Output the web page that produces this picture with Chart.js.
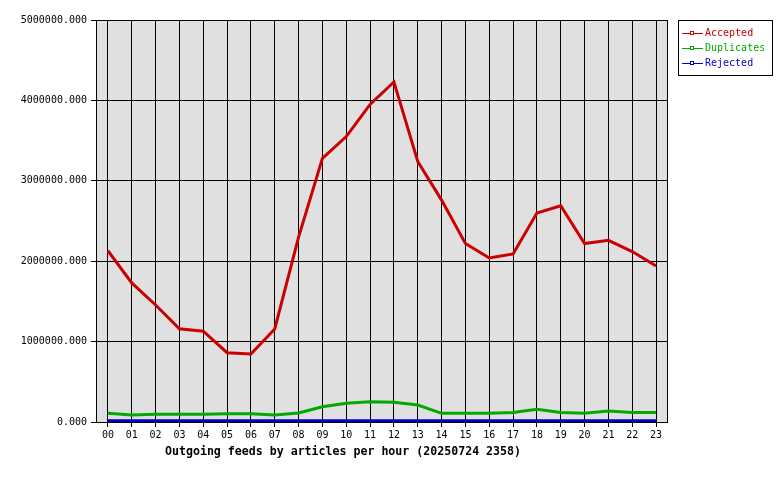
<!DOCTYPE html>
<html>
<head>
<meta charset="utf-8">
<script src="https://cdn.jsdelivr.net/npm/chart.js@4/dist/chart.umd.min.js"></script>
<style>
  body { margin: 0; background: #ffffff; }
  #wrap { width: 780px; height: 480px; }
</style>
</head>
<body>
<div id="wrap"><canvas id="feeds-chart" width="780" height="480"></canvas></div>
<script>
const hours = ["00","01","02","03","04","05","06","07","08","09","10","11",
               "12","13","14","15","16","17","18","19","20","21","22","23"];
const accepted = [2130000, 1730000, 1455000, 1160000, 1130000, 862000, 846000, 1157000,
                  2300000, 3280000, 3550000, 3950000, 4230000, 3240000, 2760000, 2220000,
                  2040000, 2090000, 2600000, 2690000, 2220000, 2260000, 2120000, 1940000];
const duplicates = [108000, 87000, 95000, 95000, 95000, 104000, 104000, 87000,
                    112000, 190000, 232000, 253000, 245000, 211000, 108000, 108000,
                    108000, 117000, 158000, 117000, 108000, 137000, 117000, 117000];
const rejected = [15000, 15000, 15000, 15000, 15000, 15000, 15000, 15000,
                  15000, 15000, 15000, 15000, 15000, 15000, 15000, 15000,
                  15000, 15000, 15000, 15000, 15000, 15000, 15000, 15000];
const yTicks = [0, 1000000, 2000000, 3000000, 4000000, 5000000];
const seriesNames = ["Accepted", "Duplicates", "Rejected"];
const seriesColors = ["#cc0000", "#00aa00", "#0000cc"];
const chartTitle = "Outgoing feeds by articles per hour (20250724 2358)";

const monoFont = "'DejaVu Sans Mono', 'Liberation Mono', monospace";

// grey plot area plus black frame, title and boxed legend
const framePlugin = {
    id: "frame",
    beforeDraw(chart){
        const {ctx, chartArea} = chart;
        ctx.save();
        ctx.fillStyle = "#e0e0e0";
        ctx.fillRect(chartArea.left, chartArea.top, chartArea.right - chartArea.left, chartArea.bottom - chartArea.top);
        ctx.restore();
    },
    beforeDatasetsDraw(chart){
        const {ctx, chartArea} = chart;
        ctx.save();
        ctx.strokeStyle = "#000000";
        ctx.lineWidth = 1;
        ctx.strokeRect(chartArea.left + 0.5, chartArea.top + 0.5,
                       chartArea.right - chartArea.left - 1, chartArea.bottom - chartArea.top);
        ctx.restore();
    },
    afterDraw(chart){
        const ctx = chart.ctx;
        ctx.save();

        // title under the x axis
        ctx.fillStyle = "#000000";
        ctx.font = "bold 11.6px " + monoFont;
        ctx.textAlign = "center";
        ctx.textBaseline = "middle";
        ctx.fillText(chartTitle, 343, 452);

        // legend box
        ctx.strokeStyle = "#000000";
        ctx.lineWidth = 1;
        ctx.strokeRect(678.5, 20.5, 94, 55);
        ctx.font = "10px " + monoFont;
        ctx.textAlign = "left";
        seriesNames.forEach((name, i) => {
            const y = 33.5 + i * 15;
            ctx.strokeStyle = seriesColors[i];
            ctx.beginPath();
            ctx.moveTo(682, y);
            ctx.lineTo(703, y);
            ctx.stroke();
            ctx.fillStyle = "#ffffff";
            ctx.fillRect(690.5, y - 2, 3, 3);
            ctx.strokeRect(690.5, y - 2, 3, 3);
            ctx.fillStyle = seriesColors[i];
            ctx.fillText(name, 705, y);
        });
        ctx.restore();
    }
};

const ctx = document.getElementById("feeds-chart");

new Chart(ctx, {
    type: "line",
    data: {
        labels: hours,
        datasets: [
            { label: seriesNames[0], data: accepted, borderColor: seriesColors[0] },
            { label: seriesNames[1], data: duplicates, borderColor: seriesColors[1] },
            { label: seriesNames[2], data: rejected, borderColor: seriesColors[2] }
        ].map(ds => Object.assign(ds, {
            borderWidth: 3,
            pointRadius: 0,
            tension: 0,
            fill: false
        }))
    },
    plugins: [framePlugin],
    options: {
        responsive: false,
        animation: false,
        events: [],
        layout: { padding: { top: 20, right: 112, left: 0, bottom: 0 } },
        plugins: {
            legend: { display: false },
            tooltip: { enabled: false }
        },
        scales: {
            x: {
                offset: true,
                grid: { color: "#000000", offset: false, tickLength: 5, tickColor: "#000000", lineWidth: 1 },
                border: { display: false },
                ticks: {
                    color: "#000000",
                    font: { family: monoFont, size: 10 },
                    padding: 2,
                    maxRotation: 0,
                    autoSkip: false
                },
                afterFit(scale){ scale.height = 58; }
            },
            y: {
                min: 0,
                max: 5000000,
                grid: { color: "#000000", tickLength: 5, tickColor: "#000000", lineWidth: 1 },
                border: { display: false },
                afterBuildTicks(scale){
                    scale.ticks = yTicks.map(v => ({ value: v }));
                },
                ticks: {
                    color: "#000000",
                    font: { family: monoFont, size: 10 },
                    padding: 4,
                    callback: v => Number(v).toFixed(3)
                },
                afterFit(scale){ scale.width = 96; }
            }
        }
    }
});
</script>
</body>
</html>
